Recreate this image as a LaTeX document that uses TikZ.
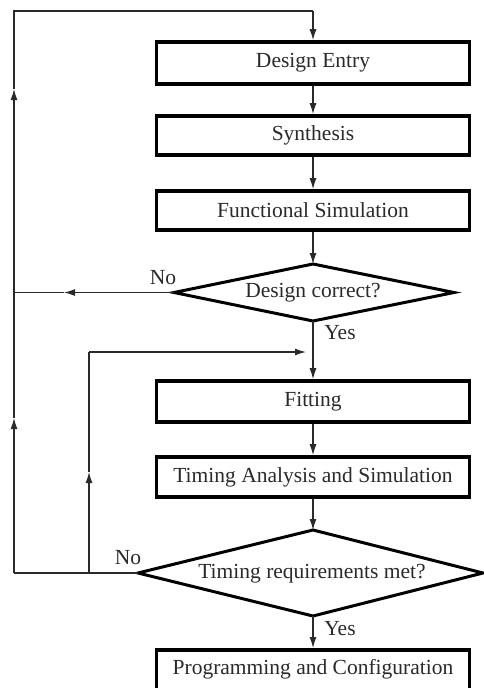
\documentclass[tikz,border=0pt]{standalone}
\usepackage{fontspec}
\setmainfont{Liberation Serif}
\usetikzlibrary{arrows.meta}
\definecolor{ink}{HTML}{2A2A2A}
\tikzset{
  box/.style={draw=black, line width=3.6pt, minimum width=313pt, inner sep=0pt, text=ink,
    font=\fontsize{21.5}{24}\selectfont},
  diaedge/.style={draw=black, line width=3pt, line join=miter},
  lbl/.style={text=ink, inner sep=0pt, font=\fontsize{21.5}{24}\selectfont},
  ln/.style={draw=ink, line width=1.3pt},
  arr/.style={ln, -{Latex[length=11pt,width=7pt]}},
}
\begin{document}
\begin{tikzpicture}[x=1pt,y=-1pt]
\useasboundingbox (0,0) rectangle (484,688);
\fill[white] (0,0) rectangle (484,688);
% boxes
\node[box, minimum height=42pt] (de) at (313,63) {Design Entry};
\node[box, minimum height=39pt] (syn) at (313,135.5) {Synthesis};
\node[box, minimum height=39pt] (fs) at (313,210.5) {Functional Simulation};
\node[box, minimum height=41pt] (fit) at (313,401.5) {Fitting};
\node[box, minimum height=40pt] (ta) at (313,477) {Timing Analysis and Simulation};
\node[box, minimum height=52pt, anchor=north] (pc) at (313,648) {};
\node[lbl] (pct) at (313,669) {Programming and Configuration};
% diamond 1
\coordinate (d1n) at (313,264);
\coordinate (d1s) at (313,321);
\coordinate (d1w) at (174,292.5);
\coordinate (d1e) at (454,292.5);
\draw[diaedge] (d1n) -- (d1e) -- (d1s) -- (d1w) -- cycle;
\node[lbl] (d1t) at (313,293) {Design correct?};
% diamond 2
\coordinate (d2n) at (313,530);
\coordinate (d2s) at (313,616);
\coordinate (d2w) at (138,573);
\coordinate (d2e) at (483,573);
\draw[diaedge] (d2n) -- (d2e) -- (d2s) -- (d2w) -- cycle;
\node[lbl] (d2t) at (312,574) {Timing requirements met?};
% labels
\node[lbl] (no1) at (163,278) {No};
\node[lbl] (yes1) at (340,333) {Yes};
\node[lbl] (no2) at (128,558) {No};
\node[lbl] (yes2) at (340,629) {Yes};
% coordinates
\coordinate (top) at (313,11);
\coordinate (tl) at (14,11);
\coordinate (bl) at (14,573);
\coordinate (la1) at (14,89);
\coordinate (la2) at (14,418);
\coordinate (h1) at (14,292.5);
\coordinate (h1a) at (64,292.5);
\coordinate (ib) at (89,573);
\coordinate (ia) at (89,472);
\coordinate (it) at (89,352);
\coordinate (ja) at (306,352);
\coordinate (j) at (313,352);
% main flow
\draw[arr] (top) -- (de.north);
\draw[arr] (de.south) -- (syn.north);
\draw[arr] (syn.south) -- (fs.north);
\draw[arr] (fs.south) -- (d1n);
\draw[ln] (d1s) -- (j);
\draw[arr] (j) -- (fit.north);
\draw[arr] (fit.south) -- (ta.north);
\draw[arr] (ta.south) -- (d2n);
\draw[arr] (d2s) -- (pc.north);
% design correct? No
\draw[arr] (d1w) -- (h1a);
\draw[ln] (h1a) -- (h1);
% timing No outer loop
\draw[ln] (d2w) -- (bl);
\draw[arr] (bl) -- (la2);
\draw[arr] (la2) -- (la1);
\draw[ln] (la1) -- (tl) -- (top);
% timing No inner loop
\draw[arr] (ib) -- (ia);
\draw[ln] (ia) -- (it);
\draw[arr] (it) -- (ja);
\end{tikzpicture}
\end{document}
